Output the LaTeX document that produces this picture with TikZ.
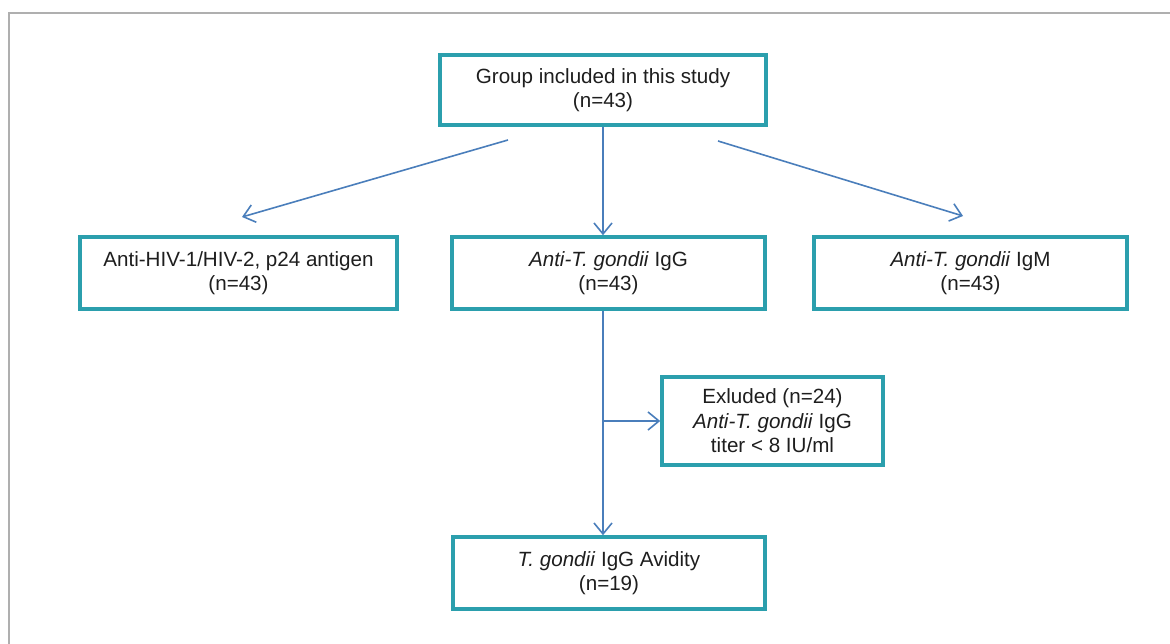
\documentclass[tikz,border=0pt]{standalone}
\usepackage{fontspec}
\setmainfont{Liberation Sans}
\usetikzlibrary{arrows.meta,calc}
\definecolor{boxteal}{RGB}{43,159,173}
\definecolor{arrowblue}{RGB}{74,126,187}
\definecolor{framegray}{RGB}{175,175,175}
\definecolor{txt}{RGB}{30,30,30}
\tikzset{
  flowbox/.style={draw=boxteal, line width=3.5pt, fill=white, text=txt,
    align=center, inner sep=0pt, font=\fontsize{20.6}{24.5}\selectfont},
  conn/.style={draw=arrowblue, line width=1.6pt,
    -{Straight Barb[length=11pt,width=18pt,line width=1.6pt]}},
  plainconn/.style={draw=arrowblue, line width=1.6pt}
}
\begin{document}
\begin{tikzpicture}[x=1pt,y=-1pt]
\useasboundingbox (0,0) rectangle (1170,644);
% frame
\draw[framegray, line width=2pt] (9,644) -- (9,13) -- (1170,13);
% boxes
\node[flowbox, minimum width=326pt, minimum height=70pt] (top) at (603,90)
  {Group included in this study\\(n=43)};
\node[flowbox, minimum width=317pt, minimum height=72pt] (left) at (238.5,273)
  {Anti-HIV-1/HIV-2, p24 antigen\\(n=43)};
\node[flowbox, minimum width=313pt, minimum height=72pt] (mid) at (608.5,273)
  {\textit{Anti-T. gondii} IgG\\(n=43)};
\node[flowbox, minimum width=313pt, minimum height=72pt] (right) at (970.5,273)
  {\textit{Anti-T. gondii} IgM\\(n=43)};
\node[flowbox, minimum width=221pt, minimum height=88pt] (excl) at (772.5,421)
  {Exluded (n=24)\\\textit{Anti-T. gondii} IgG\\titer < 8 IU/ml};
\node[flowbox, minimum width=312pt, minimum height=72pt] (bottom) at (609,573)
  {\textit{T. gondii} IgG Avidity\\(n=19)};
% connector coordinates
\coordinate (spine) at (603,0);
\coordinate (d1s) at (508,140);
\coordinate (d1e) at (242,217);
\coordinate (d2s) at (718,141);
\coordinate (d2e) at (963,216);
% connectors
\draw[conn] (d1s) -- (d1e);
\draw[conn] (d2s) -- (d2e);
\draw[conn] (spine |- top.south) -- (spine |- mid.north);
\draw[conn] (spine |- mid.south) -- (spine |- bottom.north);
\draw[conn] (spine |- excl.west) -- (excl.west);
\end{tikzpicture}
\end{document}
